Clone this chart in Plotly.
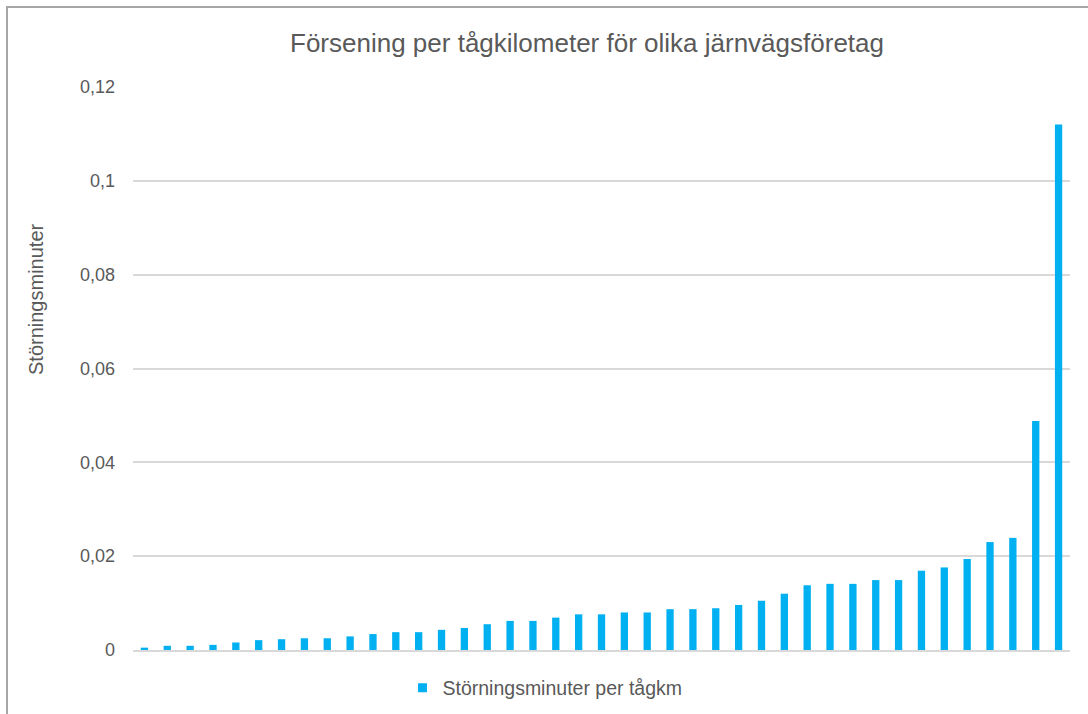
import plotly.graph_objects as go

# Störningsminuter per tågkm, one bar per järnvägsföretag (sorted ascending)
companies = [str(i) for i in range(1, 42)]
minutes_per_km = [
    0.0005, 0.0009, 0.0009, 0.0011, 0.0016, 0.0021, 0.0023, 0.0025, 0.0025, 0.0029,
    0.0034, 0.0038, 0.0038, 0.0043, 0.0047, 0.0055, 0.0062, 0.0062, 0.0069, 0.0076,
    0.0076, 0.0080, 0.0080, 0.0087, 0.0087, 0.0089, 0.0096, 0.0105, 0.0120, 0.0138,
    0.0141, 0.0141, 0.0149, 0.0149, 0.0169, 0.0176, 0.0194, 0.0230, 0.0239, 0.0488,
    0.1120,
]
y_ticks = [0, 0.02, 0.04, 0.06, 0.08, 0.1, 0.12]
y_tick_text = ["0", "0,02", "0,04", "0,06", "0,08", "0,1", "0,12"]
series_name = "Störningsminuter per tågkm"

BAR = "#00b0f0"
TEXT = "#595959"
GRID = "#d9d9d9"
FONT = "Liberation Sans, Arial, sans-serif"

W, H = 1088, 714
L, R, T, B = 133, 18, 87, 64
pw, ph = W - L - R, H - T - B


def px_x(x):
    return (x - L) / pw


def px_y(y):
    return (H - B - y) / ph


fig = go.Figure()
fig.add_trace(
    go.Bar(
        x=companies,
        y=minutes_per_km,
        name=series_name,
        marker=dict(color=BAR, line=dict(width=0)),
        showlegend=False,
    )
)
# small square legend key for the series
fig.add_trace(
    go.Scatter(
        x=[None],
        y=[None],
        mode="markers",
        name=series_name,
        marker=dict(symbol="square", size=9, color=BAR),
        showlegend=True,
    )
)

fig.update_layout(
    width=W,
    height=H,
    margin=dict(l=L, r=R, t=T, b=B, autoexpand=False),
    paper_bgcolor="white",
    plot_bgcolor="white",
    bargap=0.68,
    font=dict(family=FONT, color=TEXT, size=18),
    title=dict(
        text="Försening per tågkilometer för olika järnvägsföretag",
        x=587 / W,
        xanchor="center",
        y=1 - 43 / H,
        yanchor="middle",
        font=dict(size=26, color=TEXT, family=FONT),
    ),
    legend=dict(
        orientation="h",
        x=px_x(545),
        xanchor="center",
        y=px_y(688),
        yanchor="middle",
        font=dict(size=19.5, color=TEXT),
        itemwidth=30,
    ),
    xaxis=dict(
        type="category",
        showticklabels=False,
        showgrid=False,
        showline=True,
        linecolor=GRID,
        linewidth=1.5,
        ticks="",
        zeroline=False,
    ),
    yaxis=dict(
        range=[0, 0.12],
        tickvals=y_ticks,
        ticktext=y_tick_text,
        showgrid=True,
        gridcolor=GRID,
        gridwidth=1.5,
        zeroline=False,
        showline=False,
        ticks="",
        ticklabelstandoff=17,
        tickfont=dict(size=18, color=TEXT),
    ),
    annotations=[
        dict(
            text="Störningsminuter",
            textangle=-90,
            xref="paper",
            yref="paper",
            x=px_x(36),
            y=px_y(299),
            xanchor="center",
            yanchor="middle",
            showarrow=False,
            font=dict(size=20, color=TEXT, family=FONT),
        )
    ],
)

# outer frame of the chart area (left and top edges)
fig.add_shape(
    type="path",
    xref="paper",
    yref="paper",
    path=f"M {px_x(7)},{px_y(H + 5)} L {px_x(7)},{px_y(7)} L {px_x(W + 5)},{px_y(7)}",
    line=dict(color="#a6a6a6", width=2),
    layer="above",
)

fig.write_html("out.html")
